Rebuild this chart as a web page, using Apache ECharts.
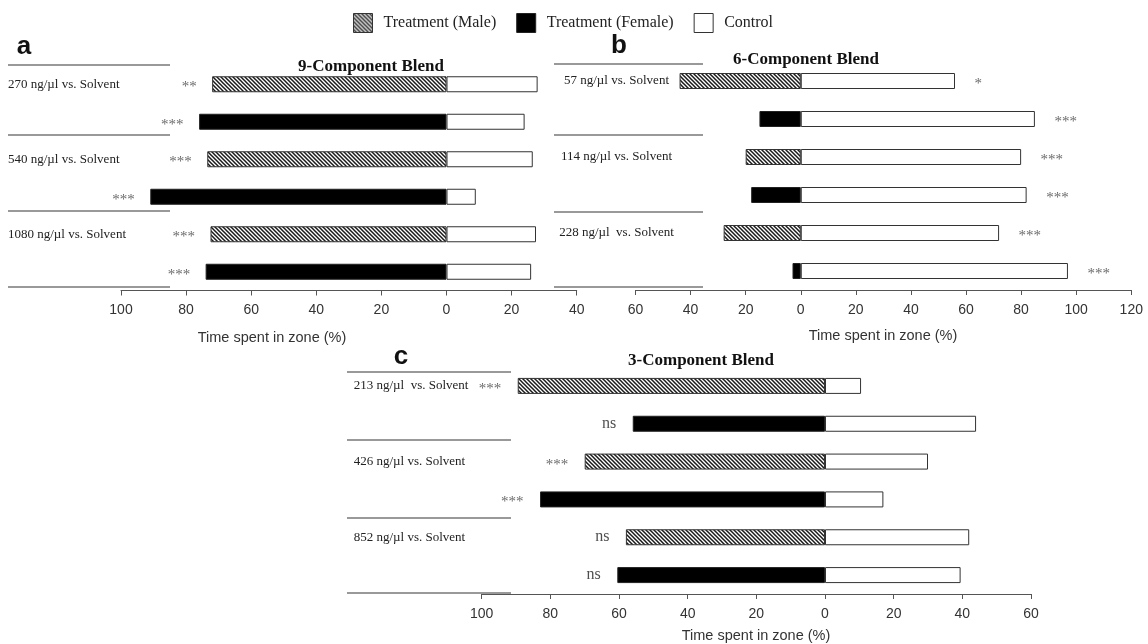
<!DOCTYPE html>
<html>
<head>
<meta charset="utf-8">
<script src="https://cdn.jsdelivr.net/npm/echarts@6/dist/echarts.min.js"></script>
<style>
  html, body { margin: 0; padding: 0; background: #fff; }
  #chart { width: 1148px; height: 644px; }
</style>
</head>
<body>
<div id="chart"></div>
<script>
// Rows of every panel, top to bottom: male then female for each dose
const sexes = ['Male', 'Female', 'Male', 'Female', 'Male', 'Female'];

// (a) 9-Component Blend
const dosesA = ['270 ng/µl vs. Solvent', '540 ng/µl vs. Solvent', '1080 ng/µl vs. Solvent'];
const treatmentA = [72, 76, 73.5, 91, 72.5, 74];
const controlA = [28, 24, 26.5, 9, 27.5, 26];
const sigA = ['**', '***', '***', '***', '***', '***'];

// (b) 6-Component Blend
const dosesB = ['57 ng/µl vs. Solvent', '114 ng/µl vs. Solvent', '228 ng/µl  vs. Solvent'];
const treatmentB = [44, 15, 20, 18, 28, 3];
const controlB = [56, 85, 80, 82, 72, 97];
const sigB = ['*', '***', '***', '***', '***', '***'];

// (c) 3-Component Blend
const dosesC = ['213 ng/µl  vs. Solvent', '426 ng/µl vs. Solvent', '852 ng/µl vs. Solvent'];
const treatmentC = [89.5, 56, 70, 83, 58, 60.5];
const controlC = [10.5, 44, 30, 17, 42, 39.5];
const sigC = ['***', 'ns', '***', '***', 'ns', 'ns'];

// Value axis ranges (treatment plotted to the left of zero)
const axisA = { min: -100, max: 40, interval: 20 };
const axisB = { min: -60, max: 120, interval: 20 };
const axisC = { min: -100, max: 60, interval: 20 };

const legendNames = ['Treatment (Male)', 'Treatment (Female)', 'Control'];
const axisTitle = 'Time spent in zone (%)';

// Diagonal hatch fill for male treatment bars
function hatchPattern() {
  const c = document.createElement('canvas');
  c.width = 4; c.height = 4;
  const g = c.getContext('2d');
  g.fillStyle = '#fff';
  g.fillRect(0, 0, 4, 4);
  g.strokeStyle = '#1a1a1a';
  g.lineWidth = 1.5;
  g.beginPath();
  g.moveTo(-1, -1); g.lineTo(5, 5);
  g.moveTo(-1, 3); g.lineTo(1, 5);
  g.moveTo(3, -1); g.lineTo(5, 1);
  g.stroke();
  return { image: c, repeat: 'repeat' };
}
const hatch = hatchPattern();

const SERIF = '"Liberation Serif", "Times New Roman", serif';
const SANS = '"Liberation Sans", Arial, sans-serif';

const panels = [
  { doses: dosesA, treat: treatmentA, ctrl: controlA, sig: sigA, axis: axisA,
    grid: { left: 121, width: 455.7, top: 65.5, height: 225 },
    labelAlign: 'left', labelMargin: 113, sigSide: 'left', sigGap: 15 },
  { doses: dosesB, treat: treatmentB, ctrl: controlB, sig: sigB, axis: axisB,
    grid: { left: 635.5, width: 495.8, top: 62, height: 228 },
    labelAlign: 'center', labelMargin: 19, sigSide: 'right', sigGap: 19 },
  { doses: dosesC, treat: treatmentC, ctrl: controlC, sig: sigC, axis: axisC,
    grid: { left: 481.7, width: 549.3, top: 367, height: 227 },
    labelAlign: 'left', labelMargin: 128, sigSide: 'left', sigGap: 16 }
];

const grids = [], xAxes = [], yAxes = [], series = [];

panels.forEach((p, k) => {
  const rows = sexes.map((s, i) => p.doses[Math.floor(i / 2)] + ' ' + s);
  grids.push(Object.assign({ containLabel: false }, p.grid));

  xAxes.push({
    type: 'value', gridIndex: k,
    min: p.axis.min, max: p.axis.max, interval: p.axis.interval,
    splitLine: { show: false },
    axisLine: { show: true, onZero: false, lineStyle: { color: '#555', width: 1 } },
    axisTick: { show: true, length: 5, lineStyle: { color: '#555', width: 1 } },
    axisLabel: {
      formatter: v => String(Math.abs(v)),
      fontFamily: SANS, fontSize: 14, color: '#333', margin: 13
    }
  });

  yAxes.push({
    type: 'category', gridIndex: k, data: rows, inverse: true,
    axisLine: { show: false, onZero: false },
    axisTick: { show: false },
    splitLine: { show: false },
    axisLabel: {
      interval: 0, align: p.labelAlign, margin: p.labelMargin,
      fontFamily: SERIF, fontSize: 13, color: '#222',
      formatter: (v, i) => (i % 2 === 0 ? p.doses[i / 2] : '')
    }
  });

  const common = { type: 'bar', xAxisIndex: k, yAxisIndex: k, stack: 'p' + k,
                   barWidth: 16, silent: true, animation: false };

  series.push(Object.assign({}, common, {
    name: 'Treatment (Male)',
    data: p.treat.map((v, i) => (sexes[i] === 'Male' ? -v : '-')),
    itemStyle: { color: hatch, borderColor: '#333', borderWidth: 1 }
  }));
  series.push(Object.assign({}, common, {
    name: 'Treatment (Female)',
    data: p.treat.map((v, i) => (sexes[i] === 'Female' ? -v : '-')),
    itemStyle: { color: '#000', borderColor: '#222', borderWidth: 1 }
  }));
  series.push(Object.assign({}, common, {
    name: 'Control',
    data: p.ctrl.slice(),
    itemStyle: { color: '#fff', borderColor: '#333', borderWidth: 1 }
  }));

  // Significance marks next to the free end of each bar
  series.push({
    type: 'scatter', xAxisIndex: k, yAxisIndex: k, silent: true, animation: false,
    symbol: 'rect', symbolSize: 1, itemStyle: { color: 'rgba(0,0,0,0)' }, z: 5,
    data: p.sig.map((s, i) => {
      const x = p.sigSide === 'left' ? -p.treat[i] : p.ctrl[i];
      const isNs = s === 'ns';
      return {
        name: s, value: [x, i],
        label: isNs
          ? { fontSize: 16, color: '#222', offset: [0, 0] }
          : { fontSize: 15, color: '#444', offset: [0, 3] }
      };
    }),
    label: {
      show: true, formatter: '{b}', position: p.sigSide, distance: p.sigGap,
      fontFamily: SERIF
    }
  });
});

function txt(x, y, text, font, color, align) {
  return {
    type: 'text', x: x, y: y, silent: true,
    style: {
      text: text, font: font, fill: color || '#111',
      textAlign: align || 'center', textVerticalAlign: 'middle',
      align: align || 'center', verticalAlign: 'middle'
    }
  };
}
function hline(x1, x2, y) {
  return {
    type: 'line', silent: true,
    shape: { x1: x1, y1: y, x2: x2, y2: y },
    style: { stroke: '#777', lineWidth: 1.5 }
  };
}

const graphic = [
  // panel letters
  txt(24, 47, 'a', 'bold 26px ' + SANS, '#111'),
  txt(619, 46, 'b', 'bold 26px ' + SANS, '#111'),
  txt(401, 357, 'c', 'bold 26px ' + SANS, '#111'),
  // panel titles
  txt(371, 67, '9-Component Blend', 'bold 17px ' + SERIF, '#111'),
  txt(806, 60, '6-Component Blend', 'bold 17px ' + SERIF, '#111'),
  txt(701, 361, '3-Component Blend', 'bold 17px ' + SERIF, '#111'),
  // axis titles
  txt(272, 338, axisTitle, '14.5px ' + SANS, '#333'),
  txt(883, 336, axisTitle, '14.5px ' + SANS, '#333'),
  txt(756, 636, axisTitle, '14.5px ' + SANS, '#333'),
  // row-group separators
  hline(8, 170, 65), hline(8, 170, 135), hline(8, 170, 211), hline(8, 170, 287),
  hline(554, 703, 64), hline(554, 703, 135), hline(554, 703, 212), hline(554, 703, 287),
  hline(347, 511, 372), hline(347, 511, 440), hline(347, 511, 518), hline(347, 511, 593)
];

const chart = echarts.init(document.getElementById('chart'), null, { renderer: 'canvas' });
chart.setOption({
  backgroundColor: '#fff',
  animation: false,
  legend: {
    data: legendNames, left: 353, top: 13, padding: 0,
    icon: 'rect', itemWidth: 19, itemHeight: 19, itemGap: 20,
    selectedMode: false,
    itemStyle: { borderWidth: 1 },
    textStyle: { fontFamily: SERIF, fontSize: 16, color: '#222', padding: [0, 0, 0, 6] }
  },
  grid: grids,
  xAxis: xAxes,
  yAxis: yAxes,
  series: series,
  graphic: graphic
});
</script>
</body>
</html>
